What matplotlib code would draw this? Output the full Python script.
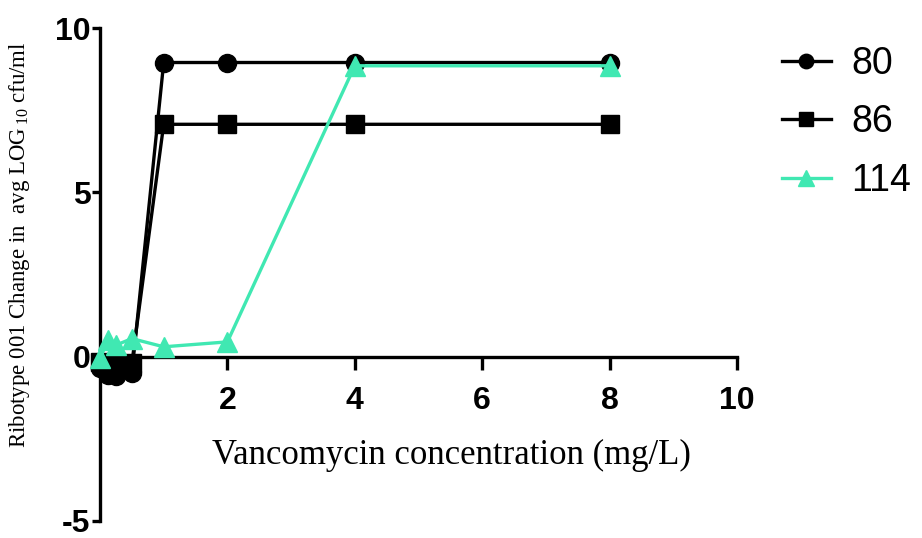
import matplotlib
matplotlib.use("Agg")
import matplotlib.pyplot as plt

plt.rcParams["axes.unicode_minus"] = False
plt.rcParams["mathtext.fontset"] = "custom"
plt.rcParams["mathtext.rm"] = "Liberation Serif"

conc = [0, 0.125, 0.25, 0.5, 1, 2, 4, 8]
r80 = [-0.35, -0.55, -0.6, -0.5, 8.95, 8.95, 8.95, 8.95]
r86 = [-0.15, -0.2, -0.25, -0.2, 7.07, 7.07, 7.07, 7.07]
r114 = [-0.05, 0.5, 0.35, 0.55, 0.3, 0.45, 8.85, 8.85]
series_labels = ["80", "86", "114"]
xticks = [2, 4, 6, 8, 10]
yticks = [-5, 0, 5, 10]

teal = "#40E8B2"

fig = plt.figure(figsize=(9.22, 5.38), dpi=100)
ax = fig.add_axes([100/922, 17/538, 637/922, 493/538])

lw = 2.4
ax.plot(conc, r80, color="black", marker="o", ms=13, lw=lw, label=series_labels[0], clip_on=False, zorder=3)
ax.plot(conc, r86, color="black", marker="s", ms=12.5, lw=lw, label=series_labels[1], clip_on=False, zorder=3)
ax.plot(conc, r114, color=teal, marker="^", ms=14, lw=lw, label=series_labels[2], clip_on=False, zorder=4)

ax.set_xlim(0, 10)
ax.set_ylim(-5, 10)
ax.spines["top"].set_visible(False)
ax.spines["right"].set_visible(False)
ax.spines["bottom"].set_position(("data", 0))
for s in ("left", "bottom"):
    ax.spines[s].set_linewidth(2.4)
ax.set_xticks(xticks)
ax.set_yticks(yticks)
ax.tick_params(axis="x", direction="out", length=9, width=2.4, pad=12)
ax.tick_params(axis="y", direction="out", length=6, width=2.4, pad=1)
for lab in ax.get_xticklabels() + ax.get_yticklabels():
    lab.set_fontfamily("Liberation Sans")
    lab.set_fontweight("bold")
    lab.set_fontsize(23)

fig.text(451/922, 1 - 455/538, "Vancomycin concentration (mg/L)", family="Liberation Serif",
         fontsize=25, ha="center", va="center")
fig.text(20/922, 1 - 245/538, "Ribotype 001 Change in  avg LOG$_{\\,10}$ cfu/ml", family="Liberation Serif",
         fontsize=16.5, ha="center", va="center", rotation=90)

leg = fig.legend(loc="upper left", bbox_to_anchor=(748/922, 1 - 12/538), frameon=False,
                 prop={"family": "Liberation Sans", "size": 27}, handlelength=1.3,
                 labelspacing=0.6, handletextpad=0.55, markerscale=0.8)

fig.savefig("out.png", dpi=100)
